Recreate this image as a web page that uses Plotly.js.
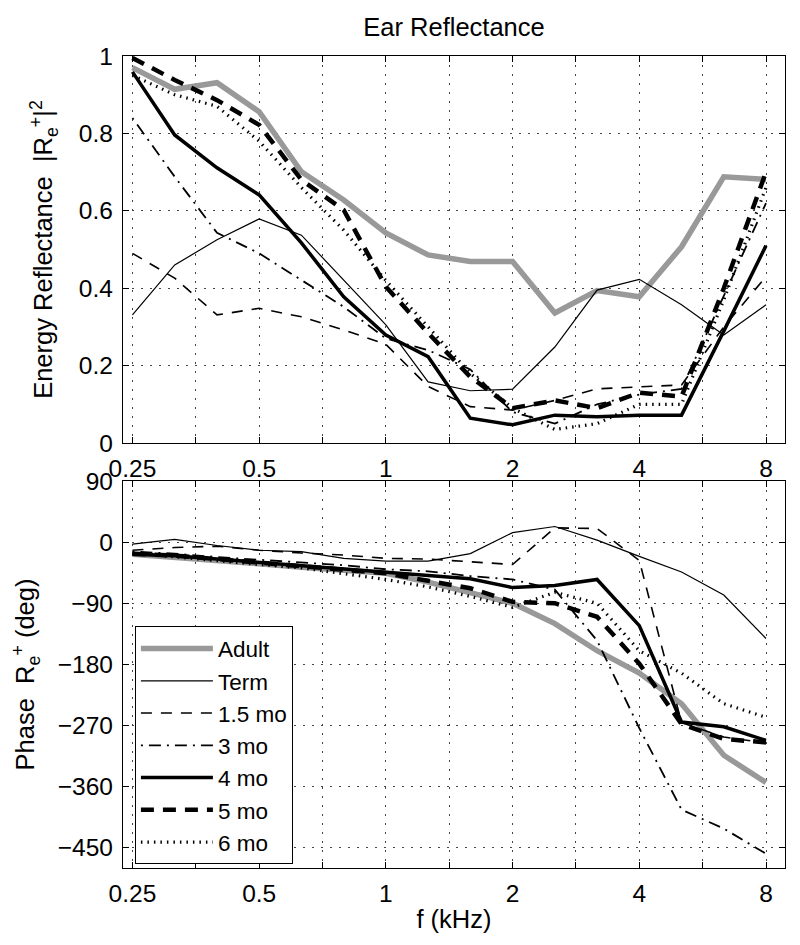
<!DOCTYPE html>
<html>
<head>
<meta charset="utf-8">
<script src="https://cdn.plot.ly/plotly-3.0.1.min.js"></script>
<style>html,body{margin:0;padding:0;background:#fff;}#chart{width:800px;height:945px;}</style>
</head>
<body>
<div id="chart"></div>
<script>
// Frequencies (kHz), 1/3-octave spacing
var freq = [0.25, 0.315, 0.397, 0.5, 0.63, 0.794, 1, 1.26, 1.587, 2, 2.52, 3.175, 4, 5.04, 6.35, 8];

// Energy reflectance |R|^2
var adultR = [0.97, 0.914, 0.931, 0.856, 0.701, 0.628, 0.543, 0.486, 0.469, 0.469, 0.336, 0.394, 0.378, 0.507, 0.688, 0.681];
var termR  = [0.331, 0.46, 0.525, 0.579, 0.537, 0.421, 0.305, 0.158, 0.135, 0.139, 0.248, 0.395, 0.423, 0.357, 0.279, 0.357];
var m15R   = [0.49, 0.426, 0.331, 0.348, 0.326, 0.292, 0.255, 0.146, 0.094, 0.085, 0.11, 0.14, 0.145, 0.15, 0.30, 0.43];
var m3R    = [0.84, 0.688, 0.543, 0.49, 0.421, 0.352, 0.27, 0.24, 0.19, 0.08, 0.05, 0.10, 0.125, 0.14, 0.38, 0.62];
var m4R    = [0.959, 0.796, 0.711, 0.641, 0.517, 0.378, 0.279, 0.223, 0.064, 0.047, 0.072, 0.068, 0.072, 0.072, 0.289, 0.51];
var m5R    = [0.995, 0.938, 0.886, 0.822, 0.68, 0.602, 0.404, 0.284, 0.171, 0.09, 0.11, 0.09, 0.13, 0.12, 0.40, 0.70];
var m6R    = [0.95, 0.90, 0.87, 0.78, 0.66, 0.55, 0.42, 0.30, 0.18, 0.09, 0.035, 0.05, 0.10, 0.10, 0.37, 0.66];

// Phase of R (deg)
var adultP = [-18, -22, -27, -32, -37, -42, -46, -59, -74, -90, -120, -160, -193, -238, -314, -354];
var termP  = [-3, 4, -5, -12, -14, -24, -28, -28, -17, 14, 23, 3, -21, -44, -78, -142];
var m15P   = [-12, -8, -6, -12, -16, -19, -24, -25, -29, -33, 21, 20, -27, -266, -287, -296];
var m3P    = [-14, -17, -22, -26, -30, -34, -40, -43, -50, -55, -70, -145, -274, -394, -422, -459];
var m4P    = [-18, -20, -25, -30, -34, -39, -44, -49, -54, -67, -64, -55, -123, -265, -272, -292];
var m5P    = [-17, -20, -25, -30, -35, -40, -46, -57, -68, -88, -90, -110, -179, -268, -290, -295];
var m6P    = [-16, -22, -28, -33, -38, -46, -55, -66, -80, -96, -74, -90, -160, -193, -238, -258];

var seriesNames = ['Adult', 'Term', '1.5 mo', '3 mo', '4 mo', '5 mo', '6 mo'];
var tickVals = [0.25, 0.5, 1, 2, 4, 8];
var tickText = ['0.25', '0.5', '1', '2', '4', '8'];
var minorVals = [0.3536, 0.7071, 1.4142, 2.8284, 5.6569];
var yTopTicks = [0, 0.2, 0.4, 0.6, 0.8, 1];
var yBotTicks = [-450, -360, -270, -180, -90, 0, 90];

var styles = [
  {color: '#999999', width: 5.5, dash: 'solid'},
  {color: '#000000', width: 1.2, dash: 'solid'},
  {color: '#000000', width: 1.6, dash: '11px,9px'},
  {color: '#000000', width: 1.8, dash: '2px,6px,12px,6px'},
  {color: '#000000', width: 3.5, dash: 'solid'},
  {color: '#000000', width: 4.5, dash: '13px,9px'},
  {color: '#000000', width: 3.2, dash: '1.5px,5px'}
];
var topData = [adultR, termR, m15R, m3R, m4R, m5R, m6R];
var botData = [adultP, termP, m15P, m3P, m4P, m5P, m6P];

var traces = [];
for (var i = 0; i < seriesNames.length; i++) {
  traces.push({x: freq, y: topData[i], xaxis: 'x', yaxis: 'y', mode: 'lines', name: seriesNames[i],
    line: styles[i], showlegend: false, legendgroup: seriesNames[i]});
}
for (var j = 0; j < seriesNames.length; j++) {
  traces.push({x: freq, y: botData[j], xaxis: 'x2', yaxis: 'y2', mode: 'lines', name: seriesNames[j],
    line: styles[j], showlegend: true, legendgroup: seriesNames[j]});
}

var font = 'Liberation Sans, Arial, Helvetica, sans-serif';
var tickSize = 24.5;
var titleSize = 25.5;
var xRange = [Math.log10(0.2374), Math.log10(8.876)];
function xAxis(anchor, withTitle) {
  var ax = {
    type: 'log', range: xRange, anchor: anchor,
    tickmode: 'array', tickvals: tickVals, ticktext: tickText,
    ticks: 'inside', ticklen: 6, tickcolor: '#000', tickwidth: 1,
    showline: true, linecolor: '#000', linewidth: 1.2, mirror: 'ticks',
    showgrid: true, gridcolor: '#444', griddash: '2px,7px', gridwidth: 1,
    minor: {tickmode: 'array', tickvals: minorVals, ticks: 'inside', ticklen: 6, tickcolor: '#000',
      showgrid: true, gridcolor: '#444', griddash: '2px,7px', gridwidth: 1},
    zeroline: false, tickfont: {family: font, size: tickSize, color: '#000'},
    ticklabelstandoff: 3
  };
  if (withTitle) ax.title = {text: 'f (kHz)', font: {family: font, size: titleSize, color: '#000'}, standoff: 4};
  return ax;
}

var layout = {
  width: 800, height: 945,
  margin: {l: 123, r: 15, t: 56, b: 77},
  paper_bgcolor: '#fff', plot_bgcolor: '#fff',
  title: {text: 'Ear Reflectance', font: {family: font, size: titleSize, color: '#000'},
    x: 0.5675, xanchor: 'center', y: 0.971, yanchor: 'middle', yref: 'container'},
  xaxis: xAxis('y', false),
  xaxis2: xAxis('y2', true),
  yaxis: {
    domain: [0.5234, 1], range: [0, 1], tickmode: 'array', tickvals: yTopTicks,
    ticks: 'inside', ticklen: 6, tickcolor: '#000',
    showline: true, linecolor: '#000', linewidth: 1.2, mirror: 'ticks',
    showgrid: true, gridcolor: '#444', griddash: '2px,7px', zeroline: false,
    tickfont: {family: font, size: tickSize, color: '#000'}, ticklabelstandoff: 4,
    title: {text: 'Energy Reflectance  |R<sub>e</sub><sup>+</sup>|<sup>2</sup>', font: {family: font, size: titleSize, color: '#000'}, standoff: 18}
  },
  yaxis2: {
    domain: [0, 0.4766], range: [-480, 90], tickmode: 'array', tickvals: yBotTicks,
    ticks: 'inside', ticklen: 6, tickcolor: '#000',
    showline: true, linecolor: '#000', linewidth: 1.2, mirror: 'ticks',
    showgrid: true, gridcolor: '#444', griddash: '2px,7px', zeroline: false,
    tickfont: {family: font, size: tickSize, color: '#000'}, ticklabelstandoff: 4,
    title: {text: 'Phase  R<sub>e</sub><sup>+</sup> (deg)', font: {family: font, size: titleSize, color: '#000'}, standoff: 15}
  },
  legend: {
    x: 0.018, y: 0.2975, xanchor: 'left', yanchor: 'top',
    bgcolor: '#fff', bordercolor: '#000', borderwidth: 1,
    font: {family: font, size: 22.5, color: '#000'},
    itemwidth: 72, tracegroupgap: 0, traceorder: 'normal'
  },
  showlegend: true
};

Plotly.newPlot('chart', traces, layout, {displayModeBar: false, staticPlot: true});
</script>
</body>
</html>
